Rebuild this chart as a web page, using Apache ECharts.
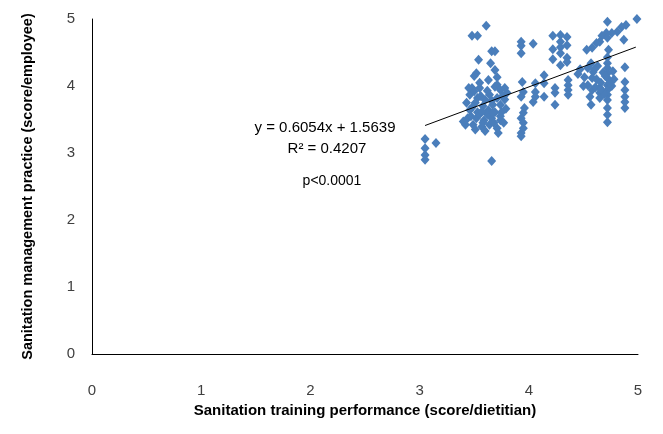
<!DOCTYPE html>
<html>
<head>
<meta charset="utf-8">
<script src="https://cdn.jsdelivr.net/npm/echarts@6/dist/echarts.min.js"></script>
<style>
html,body{margin:0;padding:0;background:#fff;}
#chart{width:663px;height:434px;}
</style>
</head>
<body>
<div id="chart"></div>
<script>
// Sanitation training performance (x) vs sanitation management practice (y)
const xValues = [
  3.05,3.05,3.05,3.05,3.15,
  3.66,
  3.61,3.48,3.53,3.66,3.69,3.54,3.65,3.69,3.52,3.50,3.71,3.63,3.71,
  3.48,3.55,3.69,3.74,3.46,3.53,3.64,3.71,3.76,3.43,3.51,3.60,3.67,3.74,3.46,3.53,3.63,3.69,3.75,3.44,3.52,3.59,3.66,3.74,3.42,3.49,3.57,3.64,3.71,
  3.58,3.62,3.56,3.78,3.79,3.40,3.47,3.68,3.72,3.60,3.55,3.50,3.66,3.74,3.77,3.55,3.45,
  3.80,3.78,3.58,3.62,3.48,3.57,3.67,3.51,
  3.93,3.93,3.93,3.94,3.95,3.93,3.96,3.95,3.93,3.95,3.95,3.93,3.93,
  4.04,4.06,4.06,4.06,4.04,
  4.14,4.14,4.14,
  4.24,4.24,4.24,
  4.36,4.36,4.36,4.36,
  4.22,4.29,4.35,4.29,4.35,4.29,4.22,4.29,4.22,4.35,4.35,4.29,
  4.99,4.72,4.89,4.85,4.81,4.76,4.71,4.67,4.72,4.65,4.87,4.62,4.58,4.53,4.73,
  4.57,4.47,4.54,4.59,4.51,4.58,4.54,4.58,4.56,4.57,
  4.72,4.72,4.72,4.72,4.72,4.72,4.72,4.72,4.72,4.72,4.72,4.72,
  4.65,4.65,4.65,
  4.88,4.88,4.88,4.88,4.88,4.88,
  4.62,4.66,4.68,4.61,4.69,4.63,4.77,4.76,4.50,4.45,4.78,
  4.70,4.74,4.60,4.66
];
const yValues = [
  3.21,3.07,2.97,2.90,3.15,
  2.88,
  4.90,4.75,4.75,4.52,4.52,4.39,4.34,4.24,4.19,4.15,4.13,4.09,4.02,
  3.97,3.97,3.99,3.94,3.87,3.82,3.87,3.82,3.85,3.75,3.75,3.79,3.72,3.72,3.64,3.61,3.64,3.61,3.61,3.52,3.52,3.49,3.52,3.49,3.42,3.42,3.39,3.42,3.37,
  3.70,3.93,3.85,3.80,3.66,3.47,3.55,3.45,3.30,3.33,3.58,3.92,3.78,3.55,3.45,4.05,3.97,
  3.90,3.97,3.45,3.58,3.68,3.62,3.60,3.35,
  4.66,4.60,4.49,4.06,3.91,3.84,3.67,3.60,3.52,3.45,3.37,3.30,3.25,
  4.63,4.04,3.91,3.84,3.76,
  4.16,4.04,3.84,
  3.97,3.90,3.72,
  4.09,4.01,3.94,3.87,
  4.75,4.76,4.73,4.66,4.61,4.58,4.55,4.49,4.40,4.42,4.36,4.31,
  5.00,4.96,4.91,4.88,4.81,4.79,4.79,4.75,4.72,4.66,4.69,4.64,4.57,4.54,4.54,
  4.34,4.25,4.27,4.21,4.13,4.12,4.01,3.94,3.84,3.72,
  4.43,4.34,4.27,4.19,4.12,4.01,3.94,3.87,3.79,3.67,3.57,3.46,
  3.97,3.90,3.82,
  4.28,4.06,3.94,3.84,3.76,3.67,
  4.10,4.05,4.20,3.98,3.88,4.30,4.22,4.00,4.00,4.18,4.10,
  4.15,4.05,4.25,3.95
];
// Linear trendline endpoints
const trendX = [3.05, 4.98];
const trendY = [3.41, 4.58];
const xTicks = [0,1,2,3,4,5];
const yTicks = [0,1,2,3,4,5];
const annotation = ['y = 0.6054x + 1.5639', 'R\u00B2 = 0.4207', 'p<0.0001'];

const points = xValues.map((x,i)=>[x, yValues[i]]);
const trend = trendX.map((x,i)=>[x, trendY[i]]);

const chart = echarts.init(document.getElementById('chart'), null, {renderer:'canvas'});
const fontFam = '"Liberation Sans", Arial, sans-serif';
chart.setOption({
  animation:false,
  backgroundColor:'#ffffff',
  grid:{left:92, right:25, top:19, bottom:80},
  xAxis:{
    type:'value', min:xTicks[0], max:xTicks[xTicks.length-1], interval:1,
    name:'Sanitation training performance (score/dietitian)',
    nameLocation:'middle', nameGap:49,
    nameTextStyle:{fontFamily:fontFam, fontWeight:'bold', fontSize:15, color:'#000'},
    axisLine:{show:true, onZero:false, lineStyle:{color:'#000', width:1}},
    axisTick:{show:false},
    splitLine:{show:false},
    axisLabel:{margin:29, fontFamily:fontFam, fontSize:15, color:'#404040'}
  },
  yAxis:{
    type:'value', min:yTicks[0], max:yTicks[yTicks.length-1], interval:1,
    name:'Sanitation management practice (score/employee)',
    nameLocation:'middle', nameGap:57,
    nameTextStyle:{fontFamily:fontFam, fontWeight:'bold', fontSize:14.5, color:'#000'},
    axisLine:{show:true, onZero:false, lineStyle:{color:'#000', width:1}},
    axisTick:{show:false},
    splitLine:{show:false},
    axisLabel:{margin:17, fontFamily:fontFam, fontSize:15, color:'#404040'}
  },
  graphic:[
    {type:'text', x:325, y:128, style:{text:annotation[0], font:'15px "Liberation Sans", Arial, sans-serif', fill:'#000', textAlign:'center', textVerticalAlign:'middle'}},
    {type:'text', x:327, y:149, style:{text:annotation[1], font:'15px "Liberation Sans", Arial, sans-serif', fill:'#000', textAlign:'center', textVerticalAlign:'middle'}},
    {type:'text', x:332, y:181, style:{text:annotation[2], font:'14px "Liberation Sans", Arial, sans-serif', fill:'#000', textAlign:'center', textVerticalAlign:'middle'}}
  ],
  series:[
    {
      type:'scatter', data:points, symbol:'diamond', symbolSize:[9,10],
      itemStyle:{color:'#4a7ebb', opacity:1}, z:2
    },
    {
      type:'line', data:trend, symbol:'none',
      lineStyle:{color:'#000', width:1}, z:3
    }
  ]
});
</script>
</body>
</html>
